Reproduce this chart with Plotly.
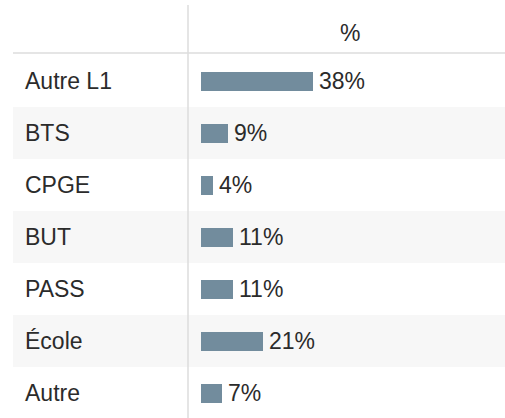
import plotly.graph_objects as go

categories = ["Autre L1", "BTS", "CPGE", "BUT", "PASS", "École", "Autre"]
values = [38, 9, 4, 11, 11, 21, 7]
value_labels = ["38%", "9%", "4%", "11%", "11%", "21%", "7%"]
header = "%"

W, H = 505, 418
ROW_H = 52.0
ROW0_CENTER = 81.0
BAR_X0 = 201.0
PX_PER_UNIT = 2.95
FONT = "Liberation Sans, Arial, sans-serif"
TXT = "#2b2b2b"

y_idx = list(range(len(categories)))

# axis ranges mapping to pixel geometry
x_range = [-BAR_X0 / PX_PER_UNIT, (W - BAR_X0) / PX_PER_UNIT]
y_top = -ROW0_CENTER / ROW_H
y_bot = (H - ROW0_CENTER) / ROW_H

fig = go.Figure()
fig.add_trace(go.Bar(
    x=values, y=y_idx, orientation="h",
    width=19 / ROW_H,
    marker=dict(color="#728c9d", line=dict(width=0)),
    hoverinfo="skip",
))

shapes = []
for i in y_idx:
    if i % 2 == 1:
        shapes.append(dict(type="rect", xref="paper", yref="y",
                           x0=13 / W, x1=1, y0=i - 0.5, y1=i + 0.5,
                           fillcolor="#f7f7f7", line=dict(width=0), layer="below"))
# header separator
hy = (53 - ROW0_CENTER) / ROW_H
shapes.append(dict(type="line", xref="paper", yref="y", x0=13 / W, x1=1, y0=hy, y1=hy,
                   line=dict(color="#dddddd", width=1.5), layer="above"))
# column separator
shapes.append(dict(type="line", xref="paper", yref="paper", x0=188 / W, x1=188 / W,
                   y0=0, y1=1 - 5 / H, line=dict(color="#dddddd", width=1.5), layer="above"))

annotations = []
for i, c in enumerate(categories):
    annotations.append(dict(x=25 / W, xref="paper", y=i, yref="y", text=c,
                            showarrow=False, xanchor="left", yanchor="middle", xshift=-2,
                            font=dict(family=FONT, size=23, color=TXT)))
for i, (v, t) in enumerate(zip(values, value_labels)):
    annotations.append(dict(x=v, xref="x", y=i, yref="y", text=t,
                            showarrow=False, xanchor="left", yanchor="middle", xshift=4,
                            font=dict(family=FONT, size=23, color=TXT)))
annotations.append(dict(x=350 / W, xref="paper", y=(33 - ROW0_CENTER) / ROW_H, yref="y",
                        text=header, showarrow=False, xanchor="center", yanchor="middle",
                        font=dict(family=FONT, size=23, color=TXT)))

fig.update_layout(
    width=W, height=H,
    margin=dict(l=0, r=0, t=0, b=0),
    paper_bgcolor="white", plot_bgcolor="rgba(0,0,0,0)",
    showlegend=False,
    xaxis=dict(range=x_range, visible=False, fixedrange=True),
    yaxis=dict(range=[y_bot, y_top], visible=False, fixedrange=True),
    shapes=shapes, annotations=annotations,
    bargap=0,
)

fig.write_html("out.html", config={"displayModeBar": False},
               post_script="document.body.style.margin='0';document.body.style.overflow='hidden';")
